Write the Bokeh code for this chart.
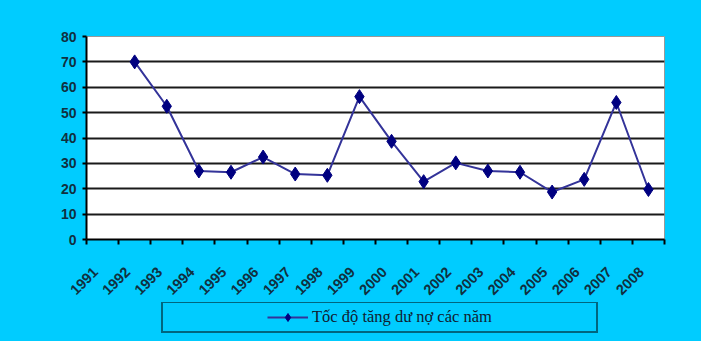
import math
from bokeh.plotting import figure
from bokeh.layouts import column
from bokeh.models import (Range1d, FixedTicker, Legend, LegendItem, ColumnDataSource,
                          CustomJSTickFormatter)
from bokeh.embed import file_html
from bokeh.resources import INLINE

# ---- data ----
years = [1991, 1992, 1993, 1994, 1995, 1996, 1997, 1998, 1999,
         2000, 2001, 2002, 2003, 2004, 2005, 2006, 2007, 2008]
growth = [None, 70, 52.5, 27, 26.5, 32.5, 25.8, 25.3, 56.3,
          38.7, 22.8, 30.2, 27, 26.5, 18.7, 23.7, 54, 19.7]
y_ticks = [0, 10, 20, 30, 40, 50, 60, 70, 80]
series_name = "Tốc độ tăng dư nợ các năm"

CYAN = "#00CCFF"
LINE_C = "#333399"
MARK_C = "#000080"

src = ColumnDataSource(dict(
    x=years,
    y=[float("nan") if v is None else v for v in growth],
))

p = figure(width=701, height=302, output_backend="svg", toolbar_location=None,
           x_range=Range1d(years[0] - 0.5, years[-1] + 0.5),
           y_range=Range1d(y_ticks[0], y_ticks[-1]),
           background_fill_color="white", border_fill_color=CYAN,
           min_border_left=86, min_border_right=37, min_border_top=36, min_border_bottom=61)
p.outline_line_color = "#999999"
p.outline_line_width = 1

# x axis: labels near category centres, tick marks at category boundaries
p.xaxis.ticker = FixedTicker(ticks=[y - 0.22 for y in years],
                             minor_ticks=[y - 0.5 for y in years] + [years[-1] + 0.5])
p.xaxis.formatter = CustomJSTickFormatter(code="return String(Math.round(tick));")
p.xaxis.major_tick_line_color = None
p.xaxis.major_tick_out = 5
p.xaxis.major_tick_in = 0
p.xaxis.minor_tick_line_color = "black"
p.xaxis.minor_tick_line_width = 2
p.xaxis.minor_tick_out = 5
p.xaxis.minor_tick_in = 0
p.xaxis.major_label_orientation = math.pi / 4
p.xaxis.major_label_text_font = "Liberation Sans"
p.xaxis.major_label_text_font_size = "14.5px"
p.xaxis.major_label_text_font_style = "bold"
p.xaxis.major_label_text_color = "#103040"
p.xaxis.major_label_standoff = 25
p.xaxis.axis_line_color = "black"
p.xaxis.axis_line_width = 2

p.yaxis.ticker = FixedTicker(ticks=y_ticks)
p.yaxis.minor_tick_line_color = None
p.yaxis.major_tick_out = 4
p.yaxis.major_tick_in = 0
p.yaxis.major_tick_line_color = "black"
p.yaxis.major_tick_line_width = 2
p.yaxis.major_label_text_font = "Liberation Sans"
p.yaxis.major_label_text_font_size = "14px"
p.yaxis.major_label_text_font_style = "bold"
p.yaxis.major_label_text_color = "#103040"
p.yaxis.major_label_standoff = 6
p.yaxis.axis_line_color = "black"
p.yaxis.axis_line_width = 2

p.xgrid.grid_line_color = None
p.ygrid.ticker = FixedTicker(ticks=y_ticks[1:-1])
p.ygrid.grid_line_color = "#1a1a1a"
p.ygrid.grid_line_width = 2

p.line("x", "y", source=src, line_color=LINE_C, line_width=2)
p.scatter("x", "y", source=src, marker="diamond", size=14,
          fill_color=MARK_C, line_color=MARK_C)

# ---- legend strip (separate figure below the chart) ----
# the series is re-plotted here outside the visible range, only to feed the legend glyph
q = figure(width=701, height=39, output_backend="svg", toolbar_location=None,
           x_range=Range1d(0, 1), y_range=Range1d(0, 1),
           background_fill_color=None, border_fill_color=CYAN,
           min_border=0)
q.axis.visible = False
q.grid.visible = False
q.outline_line_color = None

lg_line = q.line("x", "y", source=src, line_color=LINE_C, line_width=2)
lg_pts = q.scatter("x", "y", source=src, marker="diamond", size=14,
                   fill_color=MARK_C, line_color=MARK_C)
d1 = q.scatter("x", "y", source=src, fill_alpha=0, line_alpha=0)
d2 = q.scatter("x", "y", source=src, fill_alpha=0, line_alpha=0)

legend = Legend(items=[LegendItem(label=" ", renderers=[d1]),
                       LegendItem(label=series_name, renderers=[lg_line, lg_pts]),
                       LegendItem(label=" ", renderers=[d2])],
                orientation="horizontal", location=(75, 8),
                padding=4, spacing=0, margin=0,
                glyph_width=41, glyph_height=20, label_standoff=4, label_width=55,
                label_height=20,
                border_line_color="black", border_line_width=2,
                background_fill_color=CYAN, background_fill_alpha=1,
                label_text_font="Liberation Serif", label_text_font_size="16.5px",
                label_text_color="#102030")
q.add_layout(legend, "center")

layout = column(p, q, spacing=0)
layout.styles = {"background-color": CYAN}
open("out.html", "w").write(file_html(layout, INLINE))
